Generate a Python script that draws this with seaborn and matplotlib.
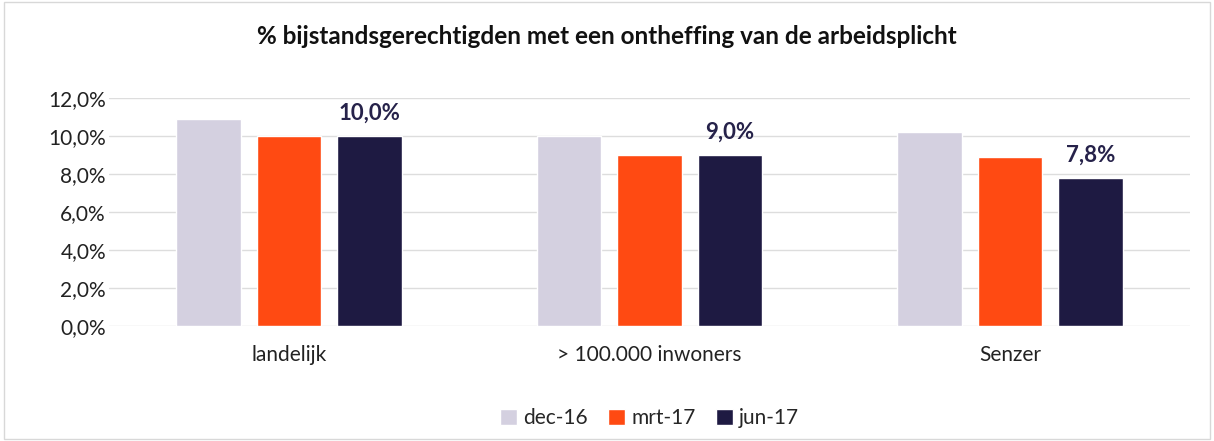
import matplotlib
matplotlib.use("Agg")
import matplotlib.pyplot as plt
import numpy as np
import pandas as pd
import seaborn as sns

# data
categories = ["landelijk", "> 100.000 inwoners", "Senzer"]
periods = ["dec-16", "mrt-17", "jun-17"]
dec_16 = [10.9, 10.0, 10.2]
mrt_17 = [10.0, 9.0, 8.9]
jun_17 = [10.0, 9.0, 7.8]
colors = ["#d4d0e0", "#ff4a12", "#1e1a42"]

df = pd.DataFrame({
    "regio": categories * 3,
    "periode": [p for p in periods for _ in categories],
    "pct": dec_16 + mrt_17 + jun_17,
})

sns.set_theme(style="white")
plt.rcParams["font.family"] = ["Lato", "DejaVu Sans"]

fig = plt.figure(figsize=(12.14, 4.41), dpi=100)
ax = fig.add_axes([0.0896, 0.261, 0.891, 0.517])

sns.barplot(data=df, x="regio", y="pct", hue="periode", hue_order=periods,
            palette=colors, width=0.67, gap=0.2, saturation=1, ax=ax)

ax.set_ylim(0, 12)
ax.set_xlim(-0.5, 2.5)
ax.set_yticks(np.arange(0, 12.1, 2))
ax.set_yticklabels([f"{v:.1f}%".replace(".", ",") for v in np.arange(0, 12.1, 2)],
                   fontsize=15, color="#222222")
ax.tick_params(axis="x", labelsize=15, colors="#222222", length=0, pad=14)
ax.tick_params(axis="y", length=0, pad=2)
ax.yaxis.grid(True, color="#dddddd", linewidth=1)
ax.set_axisbelow(True)
for s in ax.spines.values():
    s.set_visible(False)
ax.set_xlabel("")
ax.set_ylabel("")

# value labels on the jun-17 bars
jun_bars = ax.containers[2]
for bar, v in zip(jun_bars, jun_17):
    ax.text(bar.get_x() + bar.get_width() / 2, v + 0.65, f"{v:.1f}%".replace(".", ","),
            ha="center", va="bottom", fontsize=16, fontweight="bold", color="#26224a")

fig.suptitle("% bijstandsgerechtigden met een ontheffing van de arbeidsplicht",
             y=0.943, fontsize=17.5, fontweight="bold", color="#111111")

ax.legend(loc="upper center", bbox_to_anchor=(0.5, -0.28), ncol=3, frameon=False,
          fontsize=15, handlelength=0.8, handleheight=0.8, handletextpad=0.3,
          columnspacing=1.0)

fig.patches.append(plt.Rectangle((0.003, 0.005), 0.994, 0.99, transform=fig.transFigure,
                                 fill=False, edgecolor="#d8d8d8", linewidth=1))

fig.savefig("out.png", dpi=100)
